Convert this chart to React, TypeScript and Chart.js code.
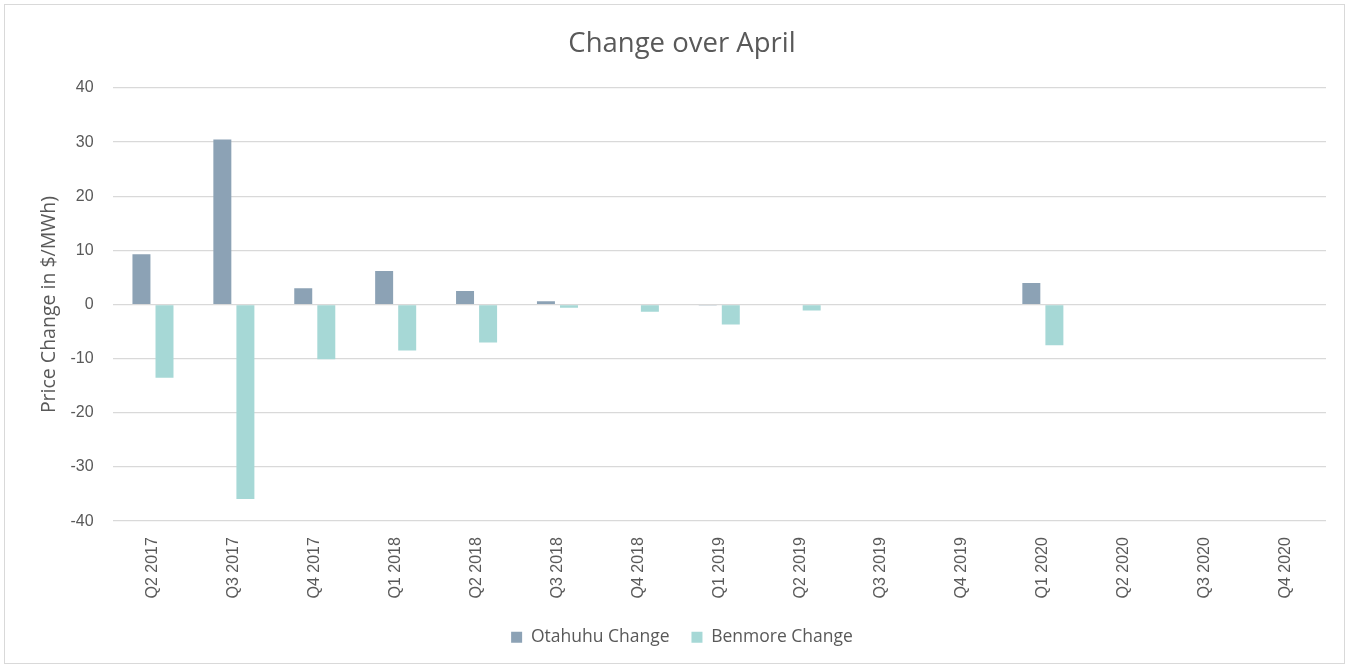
import React, { useEffect, useRef } from "react";
import { Chart, registerables } from "chart.js";

Chart.register(...registerables);

const categories = [
  "Q2 2017", "Q3 2017", "Q4 2017", "Q1 2018", "Q2 2018", "Q3 2018", "Q4 2018",
  "Q1 2019", "Q2 2019", "Q3 2019", "Q4 2019", "Q1 2020", "Q2 2020", "Q3 2020", "Q4 2020",
];
const otahuhuChange = [9.3, 30.5, 3.0, 6.2, 2.5, 0.6, 0, -0.1, 0, null, null, 4.0, null, null, null];
const benmoreChange = [-13.5, -35.9, -10.1, -8.5, -7.0, -0.6, -1.35, -3.7, -1.1, null, null, -7.5, null, null, null];
const yTicks = [40, 30, 20, 10, 0, -10, -20, -30, -40];

export default function App() {
  const ref = useRef<HTMLCanvasElement>(null);
  useEffect(() => {
    document.body.style.margin = "0";
    const ctx = ref.current!;
    const chart = new Chart(ctx, {
      type: "bar",
      data: {
        labels: categories,
        datasets: [
          { label: "Otahuhu Change", data: otahuhuChange as any, backgroundColor: "#8CA2B5", barPercentage: 0.78, categoryPercentage: 0.57 },
          { label: "Benmore Change", data: benmoreChange as any, backgroundColor: "#A6D8D6", barPercentage: 0.78, categoryPercentage: 0.57 },
        ],
      },
      options: {
        animation: false,
        responsive: true,
        maintainAspectRatio: false,
        layout: { padding: { left: 33, right: 18, top: 10, bottom: 7 } },
        plugins: {
          title: {
            display: true,
            text: "Change over April",
            color: "#595959",
            font: { family: "'Open Sans'", size: 27.5, weight: "normal" },
            padding: { top: 13, bottom: 27 },
          },
          legend: {
            position: "bottom",
            labels: {
              color: "#595959",
              font: { family: "'Open Sans'", size: 17.5 },
              boxWidth: 11,
              boxHeight: 11,
              padding: 22,
            },
          },
          tooltip: { enabled: false },
        },
        scales: {
          x: {
            grid: { display: false },
            border: { display: false },
            ticks: {
              color: "#595959",
              font: { family: "'Liberation Sans'", size: 16 },
              minRotation: 90,
              maxRotation: 90,
              padding: 8,
            },
          },
          y: {
            min: -40,
            max: 40,
            afterBuildTicks: (axis: any) => {
              axis.ticks = yTicks.map((v) => ({ value: v }));
            },
            grid: { color: "#d9d9d9", lineWidth: 1.3, drawTicks: false },
            border: { display: false },
            ticks: {
              color: "#595959",
              font: { family: "'Liberation Sans'", size: 16 },
              padding: 19,
            },
            title: {
              display: true,
              text: "Price Change in $/MWh)",
              color: "#595959",
              font: { family: "'Open Sans'", size: 19.5 },
              padding: { top: 0, bottom: -10 },
            },
          },
        },
      },
    });
    return () => chart.destroy();
  }, []);
  return (
    <div
      style={{
        position: "absolute",
        left: 4,
        top: 4,
        width: 1339,
        height: 658,
        border: "1px solid #d9d9d9",
        background: "#fff",
      }}
    >
      <canvas ref={ref} />
    </div>
  );
}
